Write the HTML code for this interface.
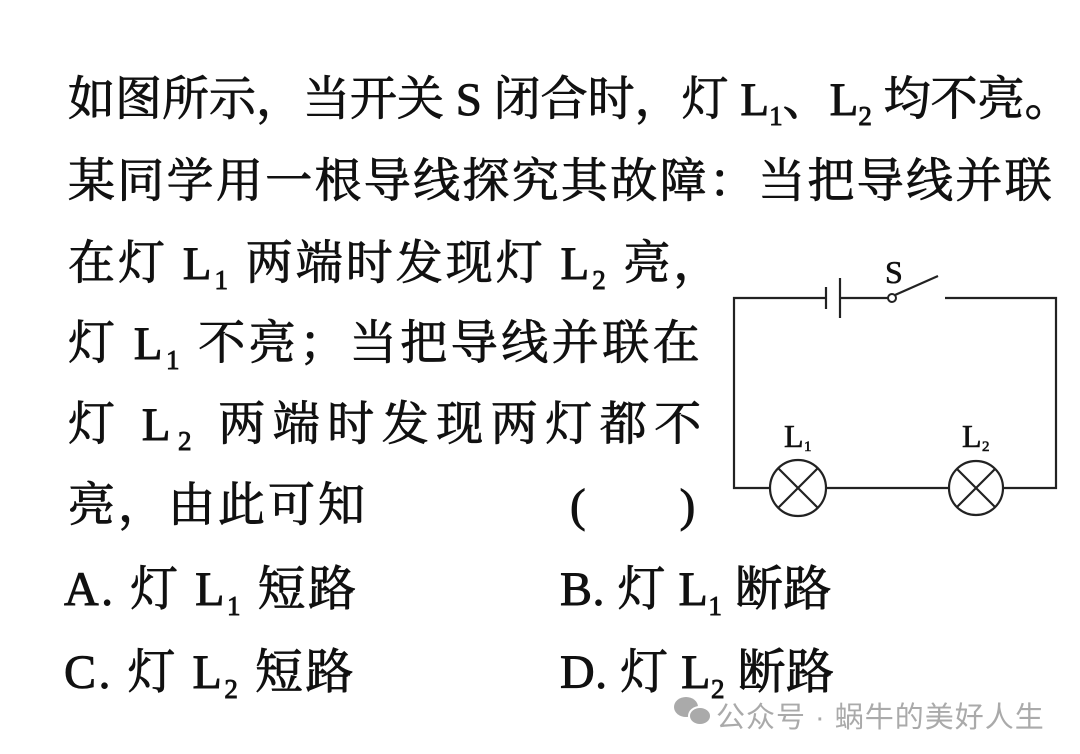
<!DOCTYPE html>
<html><head><meta charset="utf-8"><style>
body{margin:0;width:1080px;height:754px;background:#fff;position:relative;overflow:hidden;font-family:"Liberation Serif","Noto Serif CJK SC",serif;color:#111}
.l{position:absolute;font-size:47px;line-height:1;white-space:nowrap;left:68px;-webkit-text-stroke:0.9px #111}
sub{font-size:27px;vertical-align:-10px;line-height:0}
.wm{position:absolute;left:716px;top:694px;font-family:"Liberation Sans","Noto Sans CJK SC",sans-serif;font-size:29px;color:#aaa;letter-spacing:1px}
</style></head><body>
<div class="l" style="top:77px;letter-spacing:0px">如图所示，当开关 S 闭合时，灯 L<sub>1</sub>、L<sub>2</sub> 均不亮。</div>
<div class="l" style="top:159px;letter-spacing:2.3px">某同学用一根导线探究其故障：当把导线并联</div>
<div class="l" style="top:241px;letter-spacing:3px">在灯 L<sub>1</sub> 两端时发现灯 L<sub>2</sub> 亮，</div>
<div class="l" style="top:321px;letter-spacing:3.5px">灯 L<sub>1</sub> 不亮；当把导线并联在</div>
<div class="l" style="top:402px;letter-spacing:7.5px">灯 L<sub>2</sub> 两端时发现两灯都不</div>
<div class="l" style="top:483px;letter-spacing:3px">亮，由此可知</div>
<div class="l" style="top:483px;left:570px">(&nbsp;&nbsp;&nbsp;&nbsp;&nbsp;&nbsp;&nbsp;&nbsp;)</div>
<div class="l" style="top:566px;left:64px;font-size:48px;letter-spacing:2.5px">A. 灯 L<sub>1</sub> 短路</div>
<div class="l" style="top:566px;left:560px;font-size:48px;letter-spacing:0.5px">B. 灯 L<sub>1</sub> 断路</div>
<div class="l" style="top:649px;left:64px;font-size:48px;letter-spacing:2.5px">C. 灯 L<sub>2</sub> 短路</div>
<div class="l" style="top:649px;left:560px;font-size:48px;letter-spacing:0.5px">D. 灯 L<sub>2</sub> 断路</div>
<svg style="position:absolute;left:0;top:0" width="1080" height="754">
<g stroke="#222" stroke-width="2.2" fill="none">
<polyline points="826,298 734,298 734,488 770,488"/>
<line x1="826" y1="287" x2="826" y2="309"/>
<line x1="840" y1="278" x2="840" y2="318"/>
<line x1="840" y1="298" x2="888" y2="298"/>
<circle cx="892" cy="298" r="4" stroke-width="2"/>
<line x1="895" y1="295" x2="938" y2="276"/>
<polyline points="945,298 1056,298 1056,488 1004,488"/>
<line x1="826" y1="488" x2="949" y2="488"/>
<circle cx="798" cy="488" r="28"/>
<line x1="778" y1="468" x2="818" y2="508"/><line x1="818" y1="468" x2="778" y2="508"/>
<circle cx="976" cy="488" r="27"/>
<line x1="957" y1="469" x2="995" y2="507"/><line x1="995" y1="469" x2="957" y2="507"/>
</g>
<g font-family="Liberation Serif,serif" fill="#111" stroke="#111" stroke-width="0.6">
<text x="885" y="283" font-size="32">S</text>
<text x="784" y="447" font-size="32">L</text><text x="804" y="451" font-size="15">1</text>
<text x="962" y="447" font-size="32">L</text><text x="982" y="451" font-size="15">2</text>
</g>
<g fill="#aaa"><ellipse cx="686" cy="707" rx="12" ry="10"/><ellipse cx="700" cy="716" rx="11" ry="9" stroke="#fff" stroke-width="2"/></g>
</svg>
<div class="wm">公众号 · 蜗牛的美好人生</div>
</body></html>
